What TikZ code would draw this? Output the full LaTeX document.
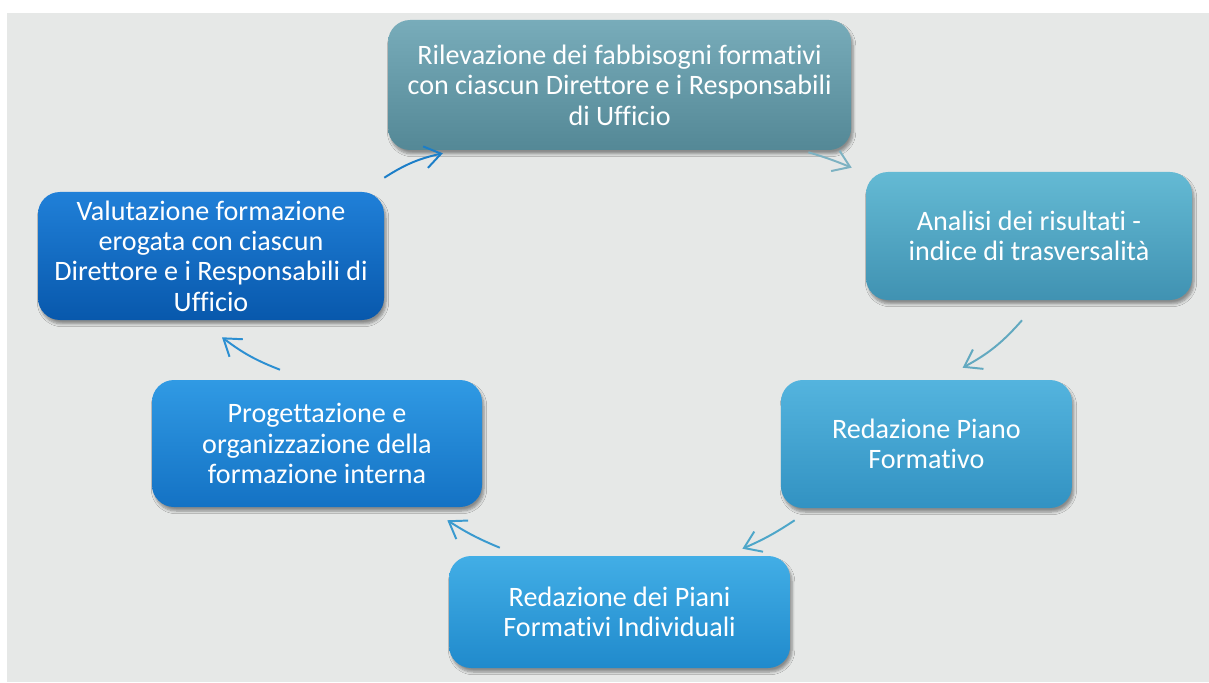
\documentclass[tikz,border=0pt]{standalone}
\usepackage{fontspec}
\setmainfont{Carlito}[Ligatures=NoCommon]
\usepackage{tikz}
\usetikzlibrary{arrows.meta, positioning, shadows.blur, calc}
\definecolor{bggray}{HTML}{E6E8E7}
% arrow colours
\definecolor{arrA}{HTML}{1C7EC8}
\definecolor{arrB}{HTML}{7DB2C2}
\definecolor{arrC}{HTML}{62A9C0}
\definecolor{arrD}{HTML}{4DA6C9}
\definecolor{arrE}{HTML}{3A9ACF}
\definecolor{arrF}{HTML}{2C8FD2}

\begin{document}
\begin{tikzpicture}[
  stage/.style={rounded corners=0.55cm, align=center, text=white, inner sep=2pt,
    font=\fontsize{20}{21.6}\selectfont,
    blur shadow={shadow xshift=0.05cm, shadow yshift=-0.1cm, shadow blur steps=6, shadow opacity=40}},
  flow/.style={line width=1.4pt, -{Straight Barb[length=4mm, width=5.5mm, line width=1.4pt]}}
]
  % Background
  \useasboundingbox (0,0) rectangle (30.225,17.05);
  \fill[white] (0,0) rectangle (30.225,17.05);
  \fill[bggray] (0.175,0) rectangle (30.225,16.725);
  % Cycle stages
  \node[stage, minimum width=11.575cm, minimum height=3.25cm,
    top color={rgb,255:red,120;green,172;blue,186}, bottom color={rgb,255:red,84;green,136;blue,150}]
    (rilev) at (15.49,14.925) {Rilevazione dei fabbisogni formativi\\con ciascun Direttore e i Responsabili\\di Ufficio};
  \node[stage, minimum width=8.15cm, minimum height=3.2cm,
    top color={rgb,255:red,100;green,186;blue,212}, bottom color={rgb,255:red,64;green,146;blue,178}]
    (analisi) at (25.725,11.15) {Analisi dei risultati -\\indice di trasversalità};
  \node[stage, minimum width=7.275cm, minimum height=3.2cm,
    top color={rgb,255:red,84;green,180;blue,222}, bottom color={rgb,255:red,50;green,146;blue,194}]
    (piano) at (23.16,5.95) {Redazione Piano\\Formativo};
  \node[stage, minimum width=8.525cm, minimum height=2.8cm,
    top color={rgb,255:red,66;green,174;blue,230}, bottom color={rgb,255:red,32;green,138;blue,204}]
    (individ) at (15.49,1.75) {Redazione dei Piani\\Formativi Individuali};
  \node[stage, minimum width=8.25cm, minimum height=3.175cm,
    top color={rgb,255:red,48;green,154;blue,228}, bottom color={rgb,255:red,20;green,114;blue,196}]
    (progett) at (7.925,5.9625) {Progettazione e\\organizzazione della\\formazione interna};
  \node[stage, minimum width=8.65cm, minimum height=3.2cm,
    top color={rgb,255:red,32;green,128;blue,216}, bottom color={rgb,255:red,8;green,88;blue,172}]
    (valuta) at (5.275,10.65) {Valutazione formazione\\erogata con ciascun\\Direttore e i Responsabili di\\Ufficio};
  % Arrows
  \draw[flow, arrA] ([yshift=0.35cm]valuta.north east) to[bend left=10] ([xshift=1.375cm, yshift=-0.075cm]rilev.south west);
  \draw[flow, arrB] ([xshift=-1.075cm, yshift=-0.05cm]rilev.south east) to[bend left=3] ([xshift=-0.35cm, yshift=0.1cm]analisi.north west);
  \draw[flow, arrC] ([xshift=-0.175cm, yshift=-0.5cm]analisi.south) to[bend left=10] ([xshift=4.55cm, yshift=0.3cm]piano.north west);
  \draw[flow, arrD] ([xshift=0.35cm, yshift=-0.3cm]piano.south west) to[bend left=5] ([xshift=-1.2cm, yshift=0.175cm]individ.north east);
  \draw[flow, arrE] ([xshift=1.275cm, yshift=0.2cm]individ.north west) to[bend left=5] ([xshift=-0.875cm, yshift=-0.325cm]progett.south east);
  \draw[flow, arrF] ([xshift=-0.925cm, yshift=0.25cm]progett.north) to[bend left=8] ([xshift=0.275cm, yshift=-0.425cm]valuta.south);
\end{tikzpicture}
\end{document}
